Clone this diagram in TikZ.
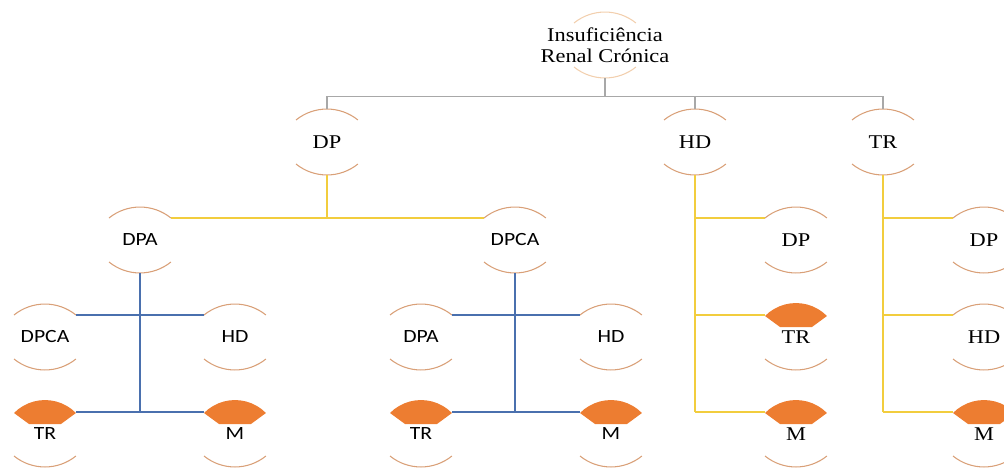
\documentclass[tikz,border=0pt]{standalone}
\usepackage{fontspec}
\usetikzlibrary{calc}
\newfontfamily\fser[FakeStretch=1.15]{Liberation Serif}
\newfontfamily\fsan[FakeStretch=1.16]{Carlito}
\definecolor{arcc}{HTML}{D9A078}
\definecolor{rootarc}{HTML}{F2CFAE}
\definecolor{lgray}{HTML}{A8A8A8}
\definecolor{lyel}{HTML}{F2CD3E}
\definecolor{lblue}{HTML}{4A70AE}
\definecolor{orfill}{HTML}{ED7D31}
\pgfdeclarelayer{bg}
\pgfsetlayers{bg,main}
\tikzset{
  nd/.style={rectangle, inner sep=0pt, minimum width=46.5pt, minimum height=49.5pt, align=center},
  ser/.style={nd, font=\fser\fontsize{14.6}{15.75}\selectfont},
  san/.style={nd, font=\fsan\fontsize{14}{15}\selectfont},
  arcline/.style={draw=arcc, line width=0.8pt},
  rootline/.style={draw=rootarc, line width=0.8pt},
  conn/.style={line width=1.1pt},
  gline/.style={conn, draw=lgray},
  yline/.style={conn, draw=lyel},
  bline/.style={conn, draw=lblue}
}
\newcommand\rimarcs[2][arcline]{%
  \draw[#1] ($(#2)+(-31,-22)$) arc[start angle=231,end angle=309,radius=49.2];
  \draw[#1] ($(#2)+(-31,22)$) arc[start angle=129,end angle=51,radius=49.2];}
\newcommand\filledarcs[1]{%
  \fill[orfill] ($(#1)+(-31,-21)$) arc[start angle=224.6,end angle=315.4,radius=43.5]
     -- ($(#1)+(16,-10)$) -- ($(#1)+(-16,-10)$) -- cycle;
  \draw[arcline] ($(#1)+(-31,22)$) arc[start angle=129,end angle=51,radius=49.2];}
\begin{document}
\begin{tikzpicture}[x=0.75pt,y=-0.75pt]
\useasboundingbox (0,0) rectangle (1004,468);
% nodes
\node[ser] (root) at (605,45) {Insuficiência\\Renal Crónica};
\node[ser] (DP) at (327,142) {DP};
\node[ser] (HD) at (695,142) {HD};
\node[ser] (TR) at (883,142) {TR};
\node[san] (DPA) at (140,240) {DPA};
\node[san] (DPCA) at (515,240) {DPCA};
\node[san] (a1) at (45,337) {DPCA};
\node[san] (a2) at (235,337) {HD};
\node[san] (a3) at (45,434) {TR};
\node[san] (a4) at (235,434) {M};
\node[san] (b1) at (421,337) {DPA};
\node[san] (b2) at (611,337) {HD};
\node[san] (b3) at (421,434) {TR};
\node[san] (b4) at (611,434) {M};
\node[ser] (h1) at (796,240) {DP};
\node[ser] (h2) at (796,337) {TR};
\node[ser] (h3) at (796,434) {M};
\node[ser] (t1) at (984,240) {DP};
\node[ser] (t2) at (984,337) {HD};
\node[ser] (t3) at (984,434) {M};
\begin{pgfonlayer}{bg}
% arcs
\rimarcs[rootline]{root}
\foreach \n in {DP,HD,TR,DPA,DPCA,a1,a2,b1,b2,h1,t1,t2}{\rimarcs{\n}}
\foreach \n in {a3,a4,b3,b4,h2,h3,t3}{\filledarcs{\n}}
% level 1 connectors
\draw[gline] (root.south) -- ++(0,18) coordinate (g);
\draw[gline] (DP.north) -- (DP.north |- g) -- (TR.north |- g) -- (TR.north);
\draw[gline] (HD.north) -- (HD.north |- g);
% DP children
\coordinate (pL) at ($(DPA.east)+(0,-22)$);
\coordinate (pR) at ($(DPCA.west)+(0,-22)$);
\draw[yline] (pL) -- (pR);
\draw[yline] (DP.south) -- (DP.south |- pL);
% DPA children
\coordinate (a1e) at ($(a1.east)+(0,-22)$);
\coordinate (a2w) at ($(a2.west)+(0,-22)$);
\coordinate (a3e) at ($(a3.east)+(0,-22)$);
\coordinate (a4w) at ($(a4.west)+(0,-22)$);
\draw[bline] (DPA.south) -- (DPA.south |- a3e);
\draw[bline] (a1e) -- (a2w);
\draw[bline] (a3e) -- (a4w);
% DPCA children
\coordinate (b1e) at ($(b1.east)+(0,-22)$);
\coordinate (b2w) at ($(b2.west)+(0,-22)$);
\coordinate (b3e) at ($(b3.east)+(0,-22)$);
\coordinate (b4w) at ($(b4.west)+(0,-22)$);
\draw[bline] (DPCA.south) -- (DPCA.south |- b3e);
\draw[bline] (b1e) -- (b2w);
\draw[bline] (b3e) -- (b4w);
% HD children
\foreach \c in {h1,h2,h3}{\coordinate (\c w) at ($(\c.west)+(0,-22)$);}
\draw[yline] (HD.south) -- (HD.south |- h3w);
\foreach \c in {h1,h2,h3}{\draw[yline] (HD.south |- \c w) -- (\c w);}
% TR children
\foreach \c in {t1,t2,t3}{\coordinate (\c w) at ($(\c.west)+(0,-22)$);}
\draw[yline] (TR.south) -- (TR.south |- t3w);
\foreach \c in {t1,t2,t3}{\draw[yline] (TR.south |- \c w) -- (\c w);}
\end{pgfonlayer}
\end{tikzpicture}
\end{document}
